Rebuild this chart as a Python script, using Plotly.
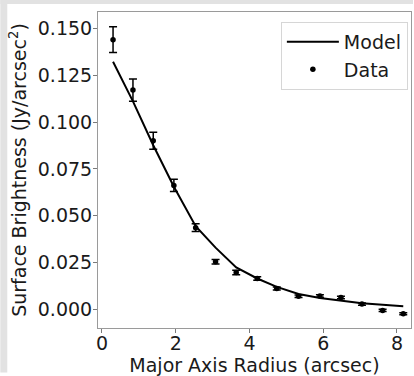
import plotly.graph_objects as go

radius = [0.30, 0.84, 1.39, 1.95, 2.54, 3.08, 3.64, 4.21, 4.74, 5.33, 5.91, 6.48, 7.05, 7.61, 8.17]
data_sb = [0.1442, 0.1172, 0.0901, 0.0662, 0.0436, 0.0254, 0.0196, 0.0164, 0.0110,
           0.0069, 0.0070, 0.0062, 0.0027, -0.0007, -0.0025]
data_err = [0.0069, 0.0059, 0.0045, 0.0033, 0.0021, 0.0012, 0.0012, 0.0009, 0.0008,
            0.0007, 0.0007, 0.0007, 0.0006, 0.0006, 0.0005]
model_sb = [0.1324, 0.1112, 0.0877, 0.0655, 0.0444, 0.0329, 0.0223, 0.0164, 0.0119,
            0.0081, 0.0060, 0.0046, 0.0032, 0.0023, 0.0016]

x_ticks = [0, 2, 4, 6, 8]
y_ticks = [0.000, 0.025, 0.050, 0.075, 0.100, 0.125, 0.150]
y_tick_labels = ["0.000", "0.025", "0.050", "0.075", "0.100", "0.125", "0.150"]

FONT = "DejaVu Sans"
TXT = "#1a1a1a"

fig = go.Figure()
fig.add_trace(go.Scatter(
    x=radius, y=model_sb, mode="lines", name="Model",
    line=dict(color="black", width=2),
))
fig.add_trace(go.Scatter(
    x=radius, y=data_sb, mode="markers", name="Data",
    marker=dict(color="black", size=5.5),
    error_y=dict(type="data", array=data_err, visible=True, color="black",
                 thickness=1.5, width=4),
))

# light grey scan border (top & left)
fig.add_shape(type="rect", xref="paper", yref="paper",
              x0=-98/314, x1=-91/314, y0=-45/319, y1=12/319 + 1,
              fillcolor="#e2e2e2", line=dict(width=0), layer="below")
fig.add_shape(type="rect", xref="paper", yref="paper",
              x0=-98/314, x1=1 + 2/314, y0=1 + 8/319, y1=1 + 12/319,
              fillcolor="#e2e2e2", line=dict(width=0), layer="below")

axis_common = dict(
    showgrid=False, zeroline=False, showline=True, mirror=True,
    linecolor="#9a9a9a", linewidth=1,
    ticks="outside", ticklen=4, tickcolor="#7a7a7a", tickwidth=1,
    tickfont=dict(family=FONT, size=19, color=TXT),
)

fig.update_xaxes(
    range=[-0.108, 8.38], tickvals=x_ticks, ticklabelstandoff=-6,
    title=dict(text="Major Axis Radius (arcsec)", font=dict(family=FONT, size=19, color=TXT),
               standoff=7),
    **axis_common,
)
fig.update_yaxes(
    range=[-0.0101, 0.159], tickvals=y_ticks, ticktext=y_tick_labels,
    ticklabelstandoff=-3,
    title=dict(text="Surface Brightness (Jy/arcsec<sup>2</sup>)",
               font=dict(family=FONT, size=19, color=TXT), standoff=6),
    **axis_common,
)

fig.update_layout(
    width=414, height=376,
    margin=dict(l=98, r=2, t=12, b=45),
    paper_bgcolor="white", plot_bgcolor="white",
    font=dict(family=FONT, size=19, color=TXT),
    showlegend=True,
    legend=dict(
        x=0.99, y=0.969, xanchor="right", yanchor="top",
        bgcolor="white", bordercolor="#d6d6d6", borderwidth=1,
        font=dict(family=FONT, size=19, color=TXT),
        itemwidth=52,
    ),
)

fig.write_html("out.html")
